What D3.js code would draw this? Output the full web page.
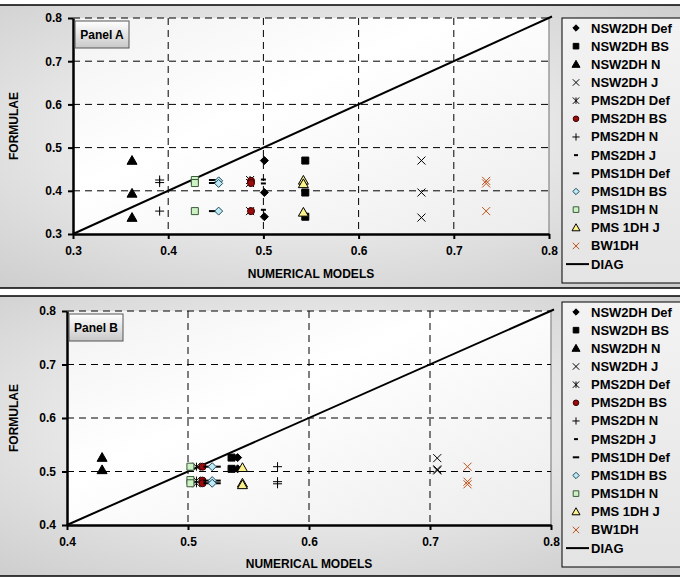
<!DOCTYPE html>
<html>
<head>
<meta charset="utf-8">
<script src="https://cdn.jsdelivr.net/npm/d3@7"></script>
<style>
  body { margin: 0; background: #fff; }
  svg text { font-family: "Liberation Sans", Arial, sans-serif; font-weight: bold; }
</style>
</head>
<body>
<div id="chart"></div>
<script>
// series names (legend order)
const seriesNames = ['NSW2DH Def', 'NSW2DH BS', 'NSW2DH N', 'NSW2DH J', 'PMS2DH Def', 'PMS2DH BS',
    'PMS2DH N', 'PMS2DH J', 'PMS1DH Def', 'PMS1DH BS', 'PMS1DH N', 'PMS 1DH J', 'BW1DH'];

// Panel A: numerical model value (x) per series, formula values (y)
const panelAx = [0.501, 0.544, 0.362, 0.666, 0.486, 0.487, 0.391, 0.5, 0.447, 0.453, 0.428, 0.542, 0.734];
const panelAy = [
    [0.47, 0.396, 0.34],
    [0.47, 0.396, 0.34],
    [0.47, 0.394, 0.338],
    [0.47, 0.396, 0.338],
    [0.425, 0.418, 0.353],
    [0.423, 0.418, 0.353],
    [0.425, 0.419, 0.353],
    [0.426, 0.417, 0.356],
    [0.425, 0.418, 0.353],
    [0.423, 0.417, 0.353],
    [0.425, 0.418, 0.353],
    [0.424, 0.416, 0.35],
    [0.423, 0.417, 0.353]
];

// Panel B
const panelBx = [0.541, 0.536, 0.429, 0.706, 0.507, 0.512, 0.574, 0.525, 0.516, 0.52, 0.502, 0.545, 0.731];
const panelBy = [
    [0.526, 0.505],
    [0.526, 0.505],
    [0.526, 0.503],
    [0.525, 0.502, 0.504],
    [0.509, 0.483, 0.478],
    [0.509, 0.483, 0.478],
    [0.509, 0.481, 0.477],
    [0.509, 0.483, 0.478],
    [0.509, 0.483, 0.478],
    [0.509, 0.483, 0.478],
    [0.509, 0.484, 0.478],
    [0.507, 0.478, 0.475],
    [0.509, 0.481, 0.476]
];

const ticksA = [0.3, 0.4, 0.5, 0.6, 0.7, 0.8];
const ticksB = [0.4, 0.5, 0.6, 0.7, 0.8];

// marker style per series
const markers = [
    {type: 'diamond', fill: '#000', stroke: '#000', size: 4},
    {type: 'square', fill: '#000', stroke: '#000', size: 3.5},
    {type: 'triangle', fill: '#000', stroke: '#000', size: 5},
    {type: 'x', fill: 'none', stroke: '#000', size: 4},
    {type: 'star', fill: 'none', stroke: '#000', size: 4},
    {type: 'circle', fill: '#9b0b0b', stroke: '#3a0000', size: 3.5},
    {type: 'plus', fill: 'none', stroke: '#000', size: 4.5},
    {type: 'shortdash', fill: 'none', stroke: '#000', size: 2.5},
    {type: 'dash', fill: 'none', stroke: '#000', size: 4},
    {type: 'diamond', fill: '#bfeaf5', stroke: '#1c4a5a', size: 4},
    {type: 'square', fill: '#ccf2c4', stroke: '#3c5a3c', size: 3.5},
    {type: 'triangle', fill: '#fcf28c', stroke: '#000', size: 5},
    {type: 'x', fill: 'none', stroke: '#c0501c', size: 4}
];

function markerPath(type, s) {
    switch (type) {
        case 'diamond': return `M0,${-s}L${s},0L0,${s}L${-s},0Z`;
        case 'square': return `M${-s},${-s}H${s}V${s}H${-s}Z`;
        case 'triangle': return `M0,${-s}L${s},${s * 0.75}L${-s},${s * 0.75}Z`;
        case 'x': return `M${-s},${-s}L${s},${s}M${-s},${s}L${s},${-s}`;
        case 'star': return `M${-s},${-s}L${s},${s}M${-s},${s}L${s},${-s}M0,${-s}V${s}`;
        case 'circle': return `M${-s},0A${s},${s} 0 1,0 ${s},0A${s},${s} 0 1,0 ${-s},0Z`;
        case 'plus': return `M${-s},0H${s}M0,${-s}V${s}`;
        case 'shortdash': return `M${-s},0H${s}`;
        case 'dash': return `M${-s},0H${s}`;
    }
}

const W = 680, H = 577;
const svg = d3.select('#chart').append('svg')
    .attr('width', W)
    .attr('height', H);

const defs = svg.append('defs');
const bg = defs.append('radialGradient').attr('id', 'bgGrad')
    .attr('cx', '45%').attr('cy', '45%').attr('r', '75%');
bg.append('stop').attr('offset', '0%').attr('stop-color', '#ffffff');
bg.append('stop').attr('offset', '100%').attr('stop-color', '#cbcbcb');

const plotGrad = defs.append('linearGradient').attr('id', 'plotGrad')
    .attr('x1', '0').attr('y1', '0').attr('x2', '1').attr('y2', '1');
plotGrad.append('stop').attr('offset', '0%').attr('stop-color', '#f2f2f2');
plotGrad.append('stop').attr('offset', '40%').attr('stop-color', '#ffffff');
plotGrad.append('stop').attr('offset', '100%').attr('stop-color', '#ececec');

const legGrad = defs.append('linearGradient').attr('id', 'legGrad')
    .attr('x1', '0').attr('y1', '0').attr('x2', '0').attr('y2', '1');
legGrad.append('stop').attr('offset', '0%').attr('stop-color', '#f3f3f3');
legGrad.append('stop').attr('offset', '100%').attr('stop-color', '#e4e4e4');

const btnGrad = defs.append('linearGradient').attr('id', 'btnGrad')
    .attr('x1', '0').attr('y1', '0').attr('x2', '0').attr('y2', '1');
btnGrad.append('stop').attr('offset', '0%').attr('stop-color', '#ffffff');
btnGrad.append('stop').attr('offset', '100%').attr('stop-color', '#c8c8c8');

function drawPanel(opts) {
    let g = svg.append('g');

    // outer frame
    g.append('rect')
        .attr('x', -2).attr('y', opts.frameTop)
        .attr('width', W + 4).attr('height', opts.frameBottom - opts.frameTop)
        .attr('fill', 'url(#bgGrad)')
        .attr('stroke', '#000').attr('stroke-width', 1.5);

    let x = d3.scaleLinear().domain(opts.domain).range([opts.left, opts.right]);
    let y = d3.scaleLinear().domain(opts.domain).range([opts.bottom, opts.top]);

    // plot area
    g.append('rect')
        .attr('x', opts.left).attr('y', opts.top)
        .attr('width', opts.right - opts.left).attr('height', opts.bottom - opts.top)
        .attr('fill', 'url(#plotGrad)');
    g.append('line')
        .attr('x1', opts.right).attr('x2', opts.right)
        .attr('y1', opts.top).attr('y2', opts.bottom)
        .attr('stroke', '#9a9a9a').attr('stroke-width', 1.5);

    // grid lines
    g.selectAll('.hgrid').data(opts.ticks.slice(1))
        .enter().append('line')
        .attr('x1', opts.left).attr('x2', opts.right)
        .attr('y1', d => y(d)).attr('y2', d => y(d))
        .attr('stroke', '#000').attr('stroke-width', 1)
        .attr('stroke-dasharray', '7,5');
    g.selectAll('.vgrid').data(opts.ticks.slice(1, -1))
        .enter().append('line')
        .attr('x1', d => x(d)).attr('x2', d => x(d))
        .attr('y1', opts.top).attr('y2', opts.bottom)
        .attr('stroke', '#000').attr('stroke-width', 1)
        .attr('stroke-dasharray', '7,5');

    // axes
    let xAxis = g.append('g')
        .attr('transform', `translate(0,${opts.bottom})`)
        .call(d3.axisBottom(x).tickValues(opts.ticks).tickSize(5).tickSizeOuter(0).tickFormat(d3.format('.1f')));
    let yAxis = g.append('g')
        .attr('transform', `translate(${opts.left},0)`)
        .call(d3.axisLeft(y).tickValues(opts.ticks).tickSize(5).tickSizeOuter(0).tickFormat(d3.format('.1f')));
    [xAxis, yAxis].forEach(a => {
        a.select('.domain').attr('stroke', '#000').attr('stroke-width', 2.5);
        a.selectAll('.tick line').attr('stroke', '#000').attr('stroke-width', 2);
        a.selectAll('.tick text').attr('font-size', '12px').attr('fill', '#000')
            .style('font-family', 'Liberation Sans, Arial, sans-serif').style('font-weight', 'bold');
    });
    xAxis.selectAll('.tick text').attr('dy', '1.1em');
    yAxis.selectAll('.tick text').attr('dx', '-3');

    // axis titles
    g.append('text')
        .attr('x', (opts.left + opts.right) / 2)
        .attr('y', opts.xTitleY)
        .attr('text-anchor', 'middle')
        .attr('font-size', '12px')
        .text('NUMERICAL MODELS');
    g.append('text')
        .attr('transform', `translate(18,${(opts.top + opts.bottom) / 2}) rotate(-90)`)
        .attr('text-anchor', 'middle')
        .attr('font-size', '12px')
        .text('FORMULAE');

    // diagonal
    g.append('line')
        .attr('x1', x(opts.domain[0])).attr('y1', y(opts.domain[0]))
        .attr('x2', x(opts.domain[1]) + 3).attr('y2', y(opts.domain[1]) - 1.5)
        .attr('stroke', '#000').attr('stroke-width', 2);

    // points
    let points = [];
    seriesNames.forEach((name, i) => {
        opts.ys[i].forEach(v => points.push({s: i, x: opts.xs[i], y: v}));
    });
    g.selectAll('.pt').data(points)
        .enter().append('path')
        .attr('transform', d => `translate(${x(d.x)},${y(d.y)})`)
        .attr('d', d => markerPath(markers[d.s].type, markers[d.s].size))
        .attr('fill', d => markers[d.s].fill)
        .attr('stroke', d => markers[d.s].stroke)
        .attr('stroke-width', d => (markers[d.s].type === 'dash' || markers[d.s].type === 'shortdash') ? 2 : 1);

    // panel label
    g.append('rect')
        .attr('x', opts.left + 2).attr('y', opts.top + 3)
        .attr('width', 54).attr('height', 27)
        .attr('fill', 'url(#btnGrad)')
        .attr('stroke', '#555').attr('stroke-width', 1);
    g.append('text')
        .attr('x', opts.left + 29).attr('y', opts.top + 21)
        .attr('text-anchor', 'middle')
        .attr('font-size', '12px')
        .text(opts.label);

    // legend
    let lg = g.append('g').attr('transform', `translate(562,${opts.legTop})`);
    lg.append('rect')
        .attr('x', 0).attr('y', 0)
        .attr('width', 130).attr('height', opts.legH)
        .attr('fill', 'url(#legGrad)')
        .attr('stroke', '#000').attr('stroke-width', 1);
    let step = (opts.legH - 18) / 13.6;
    seriesNames.forEach((name, i) => {
        let yy = 10 + i * step;
        let m = markers[i];
        let sz = m.size * 0.8;
        lg.append('path')
            .attr('transform', `translate(14,${yy})`)
            .attr('d', markerPath(m.type, sz))
            .attr('fill', m.fill)
            .attr('stroke', m.stroke)
            .attr('stroke-width', (m.type === 'dash' || m.type === 'shortdash') ? 2 : 1);
        lg.append('text')
            .attr('x', 29).attr('y', yy + 4.5)
            .attr('font-size', '13px')
            .text(name);
    });
    let dy = 10 + 13 * step;
    lg.append('line')
        .attr('x1', 4).attr('x2', 27)
        .attr('y1', dy).attr('y2', dy)
        .attr('stroke', '#000').attr('stroke-width', 2);
    lg.append('text')
        .attr('x', 29).attr('y', dy + 4.5)
        .attr('font-size', '13px')
        .text('DIAG');
}

drawPanel({
    name: 'A', label: 'Panel A',
    frameTop: 5, frameBottom: 288,
    left: 73, right: 549, top: 18, bottom: 234,
    domain: [0.3, 0.8], ticks: ticksA,
    xs: panelAx, ys: panelAy,
    xTitleY: 278,
    legTop: 18, legH: 265
});

drawPanel({
    name: 'B', label: 'Panel B',
    frameTop: 296, frameBottom: 576,
    left: 67, right: 551, top: 311, bottom: 525,
    domain: [0.4, 0.8], ticks: ticksB,
    xs: panelBx, ys: panelBy,
    xTitleY: 568,
    legTop: 302, legH: 265
});
</script>
</body>
</html>
